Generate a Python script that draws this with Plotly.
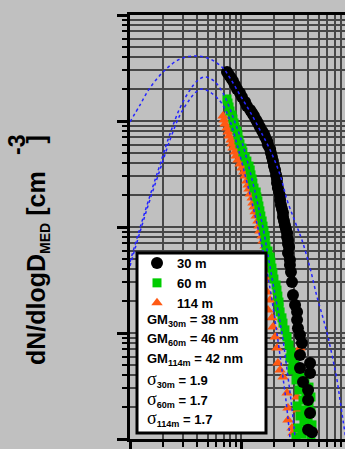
import plotly.graph_objects as go

# ---- data (diameter in nm, dN/dlogD in cm^-3) ----
D30 = [74.8, 78.0, 81.3, 84.7, 88.3, 92.0, 97.9, 102, 109, 113, 121, 126, 131, 137, 142, 148, 155, 161,
       165, 172, 175, 183, 186, 190, 194, 198, 203, 207, 211, 211, 215, 220, 225, 225, 229, 234, 239, 239,
       244, 249, 254, 260, 260, 265, 265, 271,
       265, 276, 276, 282, 288, 294, 307, 320, 320, 326, 340, 354, 340, 419, 340, 419, 362, 402, 402, 419,
       402, 436]
N30 = [2900, 2716, 2545, 2384, 2185, 2004, 1838, 1684, 1511, 1385, 1270, 1190, 1115, 1022, 958, 878, 805, 754,
       707, 648, 594, 544, 499, 458, 419, 376, 345, 310, 284, 260, 233, 214, 196, 180, 161, 148, 136, 124,
       114, 104, 95.8, 87.8, 80.5, 75.4, 69.1, 64.8,
       56.9, 48.8, 43.8, 37.6, 30.3, 22.8, 18.4, 15.8, 13.3, 11.1, 9.57, 8.05, 6.20, 5.21, 4.68, 4.19, 3.45,
       2.90, 2.33, 1.76, 1.22, 1.16]

D60 = [74.8, 76.4, 78.0, 79.6, 83.0, 84.7, 86.5, 88.3, 92.0, 94.0, 95.9, 97.9, 102, 104, 109, 113, 118, 121,
       123, 126, 128, 131, 137, 139, 142, 145, 148, 151, 155, 158, 161, 165, 165, 168, 175, 183, 186, 190,
       194, 198, 207, 211, 215, 220, 220, 225, 234, 239, 249, 260,
       271, 282, 276, 294, 307, 288, 320, 340, 313, 377, 354, 410, 333, 385, 427, 362, 410, 320, 377, 427,
       340, 402, 369, 436, 326, 393, 354, 427, 313]
N60 = [1613, 1478, 1356, 1243, 1139, 1044, 958, 878, 805, 738, 662, 607, 556, 510, 458, 419, 376, 345,
       310, 284, 260, 233, 214, 192, 176, 158, 142, 127, 114, 102, 91.7, 82.3, 73.8, 66.2, 59.4, 52.1, 46.8, 41.0,
       36.8, 32.3, 28.4, 25.4, 22.3, 19.6, 17.6, 15.8, 13.9, 12.4, 10.7, 9.17,
       7.70, 6.62, 5.81, 5.33, 4.99, 4.48, 4.29, 3.93, 3.60, 3.60, 3.23, 3.09, 2.90, 2.72, 2.49, 2.33, 2.14,
       2.05, 1.88, 1.80, 1.65, 1.58, 1.45, 1.36, 1.27, 1.22, 1.11, 1.09, 1.04]

D114 = [68.8, 70.3, 71.8, 74.8, 76.4, 78.0, 81.3, 83.0, 84.7, 88.3, 90.2, 94.0, 97.9, 102, 106, 109, 113, 116,
        118, 121, 126, 128, 131, 134, 137, 142, 145, 148, 155, 158, 165, 172, 175,
        175, 172, 175, 172, 183, 175, 190, 194, 203, 211, 340, 215, 225, 239, 362, 260, 320, 265, 393, 326,
        265, 419, 288, 445, 294]
N114 = [1115, 1022, 937, 859, 787, 722, 662, 607, 556, 510, 468, 429, 393, 360, 330, 303, 272, 249,
        228, 205, 188, 168, 154, 139, 127, 114, 102, 91.7, 82.3, 73.8, 66.2, 60.7, 54.4,
        46.8, 39.3, 31.6, 24.4, 20.5, 16.5, 13.9, 11.4, 9.17, 7.22, 7.22, 5.21, 4.48, 3.85, 3.38, 2.72, 2.49,
        1.96, 1.96, 1.88, 1.51, 1.30, 1.27, 1.22, 1.14]

# lognormal fit curves
FIT30_D = [10, 12.3, 15.1, 20.7, 28.2, 38.5, 52.6, 68.8, 79.6, 97.9, 121, 148, 183, 225, 260, 307, 354, 419,
           484, 548, 608, 675, 733, 780, 830, 883]
FIT30_N = [979, 1415, 2048, 3028, 3845, 4104, 3845, 3162, 2545, 1760, 1216, 823, 533, 310, 180, 112, 75.4,
           41.0, 21.9, 13.9, 9.17, 5.56, 3.60, 2.33, 1.51, 0.979]
FIT60_D = [10, 12.3, 15.1, 18.6, 22.9, 28.2, 34.7, 40.2, 46.4, 53.7, 60.8, 71.8, 84.7, 102, 121, 139, 158,
           175, 194, 215, 239, 260, 282, 307]
FIT60_N = [46.8, 97.9, 196, 385, 754, 1327, 1961, 2384, 2601, 2490, 2234, 1684, 1091, 634, 330, 180, 97.9,
           54.4, 29.6, 16.5, 8.59, 4.48, 2.33, 1.04]
FIT114_D = [10, 12.3, 15.1, 18.6, 22.9, 28.2, 34.7, 39.3, 43.6, 48.4, 52.6, 64.7, 74.8, 83.0, 94.0, 106, 121,
            137, 155, 172, 190, 215, 234, 254, 276]
FIT114_N = [42.9, 89.7, 180, 345, 662, 1139, 1613, 1877, 2004, 1961, 1877, 1544, 1190, 878, 556, 345, 200,
            116, 64.8, 37.6, 20.5, 8.59, 4.48, 2.33, 1.04]

SERIES = ["30 m", "60 m", "114 m"]
GM_LABELS = ["30m", "60m", "114m"]
GM_VALUES = [38, 46, 42]
SIGMA_VALUES = [1.9, 1.7, 1.7]

FONT = "Liberation Sans"
GRID = "#474747"
BG = "#c0c0c0"

fig = go.Figure()
# drawing order: 114 m at the bottom, 30 m on top
fig.add_trace(go.Scatter(x=D114, y=N114, mode="markers", name=SERIES[2],
                         marker=dict(symbol="triangle-up", size=10, color="#ff5a14")))
fig.add_trace(go.Scatter(x=D60, y=N60, mode="markers", name=SERIES[1],
                         marker=dict(symbol="square", size=9, color="#00cc00")))
fig.add_trace(go.Scatter(x=D30, y=N30, mode="markers", name=SERIES[0],
                         marker=dict(symbol="circle", size=12, color="black")))
for fx, fy in [(FIT30_D, FIT30_N), (FIT60_D, FIT60_N), (FIT114_D, FIT114_N)]:
    fig.add_trace(go.Scatter(x=fx, y=fy, mode="lines", showlegend=False, hoverinfo="skip",
                             line=dict(color="#2424ff", width=1.5, dash="dot", shape="spline")))

x_minor = [k * 10 ** e for e in range(1, 3) for k in range(2, 10)]
y_minor = [k * 10 ** e for e in range(0, 4) for k in range(2, 10)]

axis_common = dict(type="log", showline=True, linewidth=3, linecolor="black", ticks="outside",
                   ticklen=10, tickwidth=3, tickcolor="black", showticklabels=False,
                   showgrid=True, gridcolor=GRID, gridwidth=1.5, zeroline=False)
minor_common = dict(ticks="outside", ticklen=5, tickwidth=2, tickcolor="black",
                    showgrid=True, gridcolor=GRID, gridwidth=1.5)

fig.update_layout(
    width=345, height=449, autosize=False,
    margin=dict(l=130, r=0, t=15, b=10),
    paper_bgcolor=BG, plot_bgcolor=BG,
    xaxis=dict(range=[1, 2.937], mirror=True, tickvals=[10, 100, 1000],
               minor=dict(tickvals=x_minor, **minor_common), **axis_common),
    yaxis=dict(range=[0, 4], tickvals=[1, 10, 100, 1000, 10000],
               minor=dict(tickvals=y_minor, **minor_common), **axis_common),
    legend=dict(x=(137 - 130) / 215, y=(439 - 248) / 424, xanchor="left", yanchor="top",
                bgcolor="rgba(0,0,0,0)", borderwidth=0, traceorder="reversed",
                font=dict(family=FONT, size=13, color="black", weight="bold"),
                itemsizing="trace"),
    showlegend=True,
)

# legend frame
fig.add_shape(type="rect", xref="paper", yref="paper",
              x0=(137 - 130) / 215, x1=(266 - 130) / 215,
              y0=(439 - 433) / 424, y1=(439 - 253) / 424,
              fillcolor="white", line=dict(color="black", width=3), layer="above")

def py(p):
    return (439 - p) / 424

def px(p):
    return (p - 130) / 215

stat_y = [320, 339.5, 359, 379.5, 399, 418.5]
texts = [f"GM<sub>{g}</sub> = {v} nm" for g, v in zip(GM_LABELS, GM_VALUES)]
texts += [f"<span style='font-family:Liberation Serif;font-weight:normal;font-size:18px'>σ</span><sub>{g}</sub> = {s}"
          for g, s in zip(GM_LABELS, SIGMA_VALUES)]
for t, yy in zip(texts, stat_y):
    fig.add_annotation(text=t, xref="paper", yref="paper", x=px(145), y=py(yy),
                       xanchor="left", yanchor="middle", showarrow=False,
                       font=dict(family=FONT, size=13, color="black", weight="bold"))

# y-axis title
fig.add_annotation(text="dN/dlogD<sub><span style='font-size:14px'>MED</span></sub> [cm\u00a0\u00a0\u00a0\u00a0]",
                   xref="paper", yref="paper", x=px(37), y=py(250), xanchor="center", yanchor="middle",
                   textangle=-90, showarrow=False,
                   font=dict(family=FONT, size=25, color="black", weight="bold"))
fig.add_annotation(text="-3", xref="paper", yref="paper", x=px(17), y=py(145),
                   xanchor="center", yanchor="middle", textangle=-90, showarrow=False,
                   font=dict(family=FONT, size=23, color="black", weight="bold"))

fig.write_html("out.html", config={"displayModeBar": False},
               post_script="document.body.style.margin='0';document.body.style.padding='0';"
                           "document.body.style.overflow='hidden';")
